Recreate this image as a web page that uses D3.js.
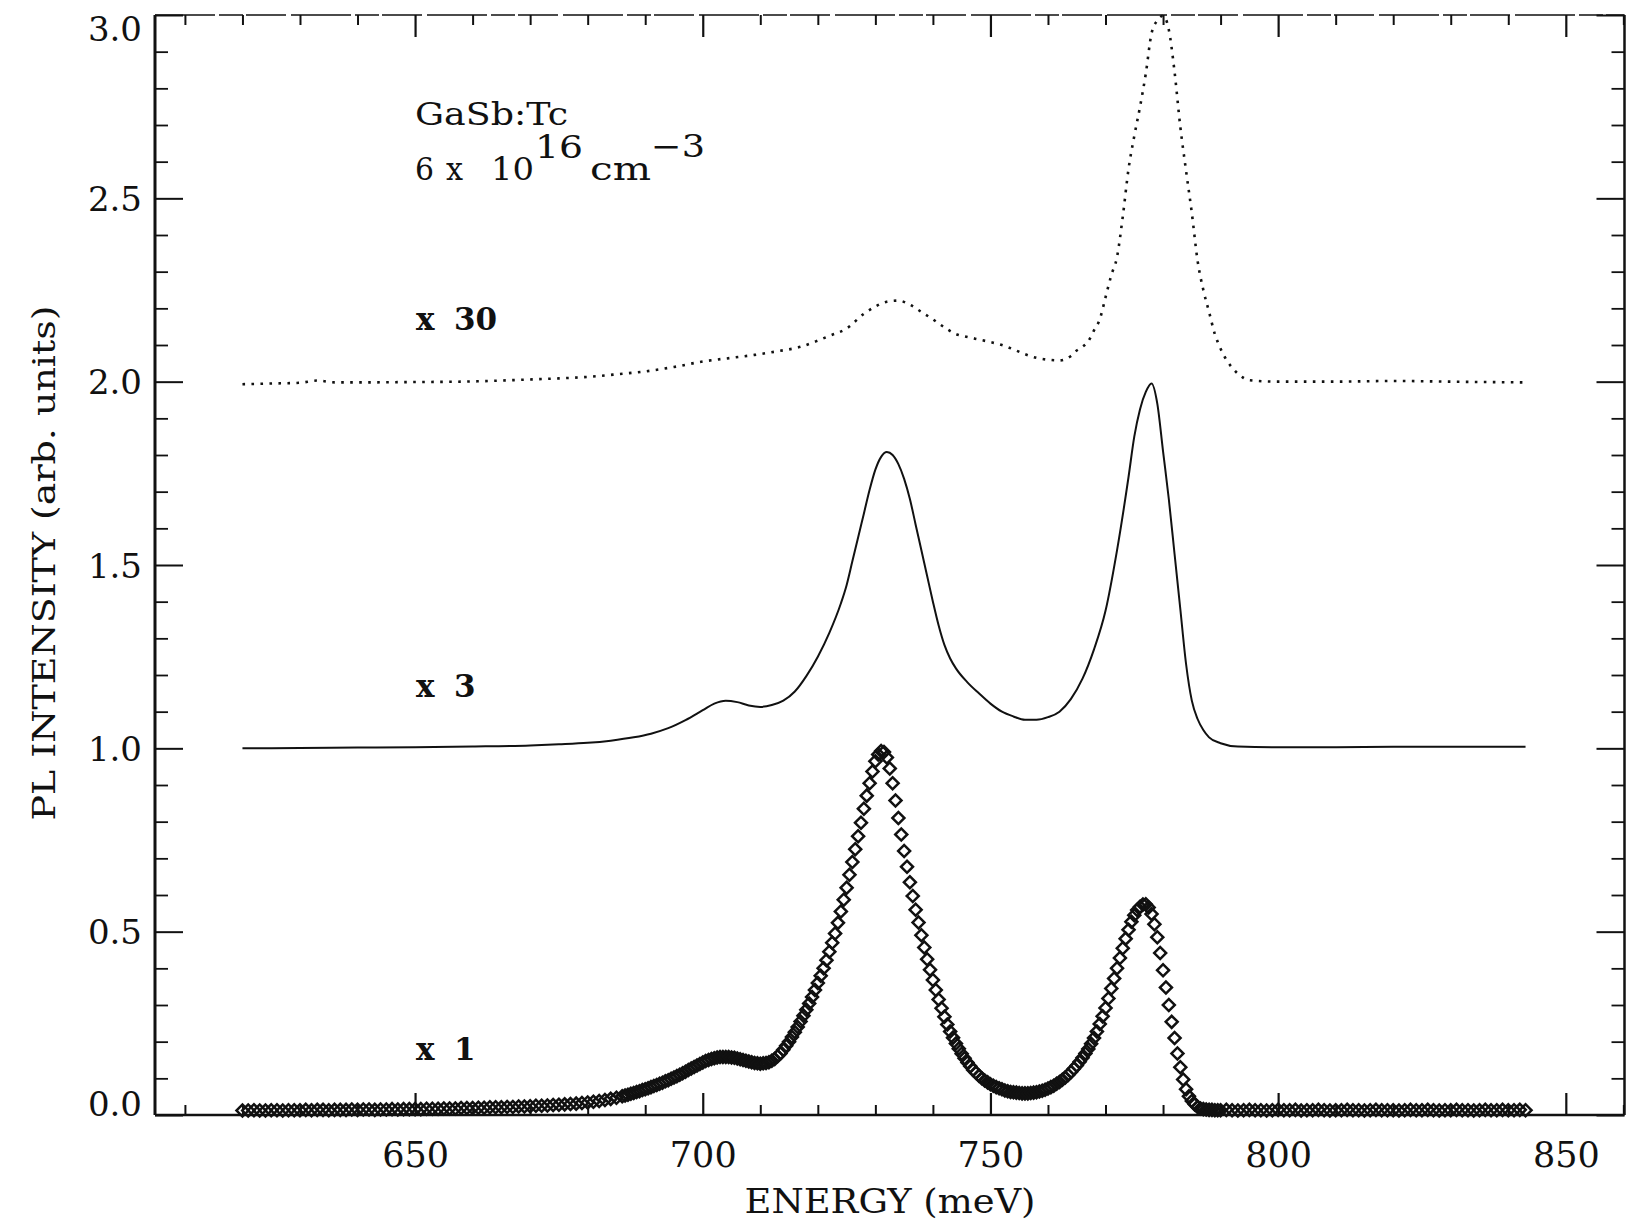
<!DOCTYPE html>
<html><head><meta charset="utf-8">
<script src="https://cdn.jsdelivr.net/npm/d3@7"></script>
<style>
html,body{margin:0;padding:0;background:#fff;}
svg{display:block;}
text{font-family:"DejaVu Serif",serif;fill:#111;}
</style></head>
<body>
<svg id="chart" width="1626" height="1222"></svg>
<script>
// ---------- data ----------
const xTickLabels = [650, 700, 750, 800, 850];
const yTickLabels = ["0.0","0.5","1.0","1.5","2.0","2.5","3.0"];
const seriesLabels = ["x 30", "x 3", "x 1"];

// x1 spectrum (diamonds), energy in meV
const x1Energy = [620,621,622,623,624,625,626,627,628,629,630,631,632,633,634,635,636,637,638,639,
640,641,642,643,644,645,646,647,648,649,650,651,652,653,654,655,656,657,658,659,
660,661,662,663,664,665,666,667,668,669,670,671,672,673,674,675,676,677,678,679,
680,681,682,683,684,685,
686,686.5,687,687.5,688,688.5,689,689.5,690,690.5,691,691.5,692,692.5,693,693.5,694,694.5,695,695.5,
696,696.5,697,697.5,698,698.5,699,699.5,700,700.5,701,701.5,702,702.5,703,703.5,704,704.5,705,705.5,
706,706.5,707,707.5,708,708.5,709,709.5,710,710.5,711,711.5,712,712.5,713,713.5,714,714.5,715,715.5,
716,716.5,717,717.5,718,718.5,719,719.5,720,720.5,721,721.5,722,722.5,723,723.5,724,724.5,725,725.5,
726,726.5,727,727.5,728,728.5,729,729.5,730,730.5,731,731.5,732,732.5,733,733.5,734,734.5,735,735.5,
736,736.5,737,737.5,738,738.5,739,739.5,740,740.5,741,741.5,742,742.5,743,743.5,744,744.5,745,745.5,
746,746.5,747,747.5,748,748.5,749,749.5,750,750.5,751,751.5,752,752.5,753,753.5,754,754.5,755,755.5,
756,756.5,757,757.5,758,758.5,759,759.5,760,760.5,761,761.5,762,762.5,763,763.5,764,764.5,765,765.5,
766,766.5,767,767.5,768,768.5,769,769.5,770,770.5,771,771.5,772,772.5,773,773.5,774,774.5,775,775.5,
776,776.5,777,777.5,778,778.5,779,779.5,780,780.5,781,781.5,782,782.5,783,783.5,784,784.5,785,785.5,
786,786.5,787,787.5,788,788.5,789,789.5,790,
791,792,793,794,795,796,797,798,799,
800,801,802,803,804,805,806,807,808,809,810,811,812,813,814,815,816,817,818,819,
820,821,822,823,824,825,826,827,828,829,830,831,832,833,834,835,836,837,838,839,
840,841,842,843];
const x1Value = [.012,.012,.013,.012,.012,.013,.013,.012,.013,.013,.013,.014,.013,.014,.014,.013,.014,.014,.014,.015,
.014,.015,.015,.014,.015,.015,.016,.015,.016,.016,.016,.016,.017,.017,.017,.018,.018,.018,.019,.019,
.019,.020,.020,.021,.021,.021,.022,.022,.023,.023,.024,.025,.025,.026,.027,.028,.029,.030,.031,.033,
.034,.036,.038,.041,.044,.047,
.051,.053,.055,.058,.060,.063,.065,.068,.070,.073,.076,.079,.082,.085,.088,.092,.095,.099,.102,.106,
.110,.114,.118,.123,.127,.131,.135,.139,.143,.147,.150,.153,.155,.157,.158,.158,.158,.158,.157,.156,
.154,.152,.150,.148,.146,.144,.142,.141,.140,.141,.142,.144,.148,.153,.160,.168,.178,.189,.200,.213,
.226,.240,.255,.271,.287,.304,.322,.341,.360,.380,.400,.422,.445,.470,.495,.524,.555,.587,.620,.655,
.690,.725,.760,.797,.835,.871,.905,.937,.965,.983,.993,.990,.975,.945,.905,.858,.810,.765,.720,.677,
.635,.597,.560,.525,.490,.457,.425,.396,.368,.341,.315,.291,.268,.247,.228,.211,.195,.181,.167,.155,
.143,.133,.123,.115,.107,.100,.094,.089,.084,.080,.076,.073,.070,.067,.065,.063,.062,.061,.060,.059,
.059,.059,.060,.061,.062,.064,.066,.069,.072,.076,.080,.085,.090,.096,.102,.109,.117,.126,.135,.145,
.156,.168,.180,.194,.210,.228,.248,.269,.292,.318,.345,.372,.400,.428,.455,.481,.505,.527,.545,.559,
.568,.574,.575,.566,.548,.520,.485,.442,.395,.348,.300,.254,.210,.168,.130,.097,.070,.051,.038,.029,
.022,.018,.016,.015,.014,.014,.013,.013,.013,
.014,.013,.012,.013,.014,.013,.013,.012,.013,
.014,.013,.013,.014,.012,.013,.013,.014,.013,.012,.013,.013,.014,.013,.013,.012,.013,.014,.013,.013,
.013,.012,.013,.014,.013,.013,.014,.013,.012,.013,.013,.014,.013,.013,.012,.013,.014,.013,.013,.014,
.013,.013,.014,.013];

// x3 spectrum (solid line)
const x3Energy = [620,630,640,650,660,670,675,680,684,688,691,694,697,700,702,704,706,708,710,712,
714,716,718,720,722,724,725,726,727,728,729,730,731,732,733,734,735,736,737,738,739,740,741,
742,743,744,746,748,750,752,754,756,758,760,762,764,766,768,770,772,774,775,776,
777,778,779,780,781,782,783,784,785,786,787,788,790,793,800,810,820,830,843];
const x3Value = [1.000,1.001,1.002,1.003,1.005,1.008,1.011,1.015,1.021,1.030,1.040,1.055,1.077,1.104,1.122,1.130,1.126,1.117,1.113,1.118,
1.130,1.155,1.197,1.250,1.315,1.395,1.445,1.510,1.575,1.640,1.705,1.760,1.795,1.808,1.800,1.775,1.735,1.680,1.610,1.540,1.470,1.400,1.335,
1.282,1.245,1.218,1.180,1.150,1.122,1.100,1.087,1.078,1.078,1.085,1.100,1.135,1.190,1.270,1.375,1.540,1.740,1.850,1.925,
1.972,1.995,1.940,1.810,1.680,1.530,1.380,1.230,1.130,1.080,1.050,1.030,1.014,1.005,1.003,1.003,1.004,1.004,1.004];

// x30 spectrum (dotted line)
const x30Energy = [620,625,630,633,636,640,650,658,665,670,675,680,685,690,695,700,705,709,713,717,
720,722,725,728,730,732,734,736,738,740,742,744,746,748,750,752,754,756,758,760,
762,764,765,766,767,768,769,770,771,772,773,774,775,776,777,778,779,780,781,782,
783,784,785,786,787,788,789,790,791,792,793,794,795,800,810,820,830,843];
const x30Value = [1.993,1.995,1.997,2.003,1.998,1.998,1.999,2.000,2.003,2.006,2.009,2.013,2.020,2.028,2.040,2.055,2.065,2.073,2.083,2.095,
2.112,2.125,2.145,2.185,2.205,2.218,2.221,2.210,2.190,2.170,2.148,2.130,2.122,2.115,2.108,2.100,2.088,2.075,2.065,2.060,
2.058,2.070,2.085,2.095,2.110,2.140,2.170,2.230,2.290,2.340,2.450,2.580,2.670,2.750,2.840,2.950,2.985,2.998,2.960,2.845,
2.695,2.575,2.460,2.330,2.250,2.190,2.130,2.090,2.060,2.038,2.022,2.010,2.004,2.000,2.000,2.002,2.000,1.998];

// ---------- drawing ----------
const svg = d3.select("#chart");
const x = d3.scaleLinear().domain([604.8, 860.2]).range([155, 1624.5]);
const y = d3.scaleLinear().domain([0, 3]).range([1115, 15]);

const axisColor = "#111";
const gAx = svg.append("g");

const xMinor = x.ticks(26).filter(v => xTickLabels.indexOf(v) < 0);
const yMinor = y.ticks(30).filter(v => Math.abs(v*2 - Math.round(v*2)) > 1e-6);
const yMajor = yTickLabels.map(Number);

function styleAxis(g, w){
  g.selectAll("line").attr("stroke", axisColor).attr("stroke-width", w);
  g.select(".domain").remove();
}
// bottom
gAx.append("g").attr("transform",`translate(0,${y(0)})`)
  .call(d3.axisBottom(x).tickValues(xMinor).tickSize(-10).tickFormat(""))
  .call(g=>styleAxis(g,2));
const bottomMajor = gAx.append("g").attr("transform",`translate(0,${y(0)})`)
  .call(d3.axisBottom(x).tickValues(xTickLabels).tickSize(-22).tickPadding(27).tickFormat(d3.format("d")))
  .call(g=>styleAxis(g,2.2));
// top
gAx.append("g").attr("transform",`translate(0,${y(3)})`)
  .call(d3.axisTop(x).tickValues(xMinor).tickSize(-10).tickFormat(""))
  .call(g=>styleAxis(g,2));
gAx.append("g").attr("transform",`translate(0,${y(3)})`)
  .call(d3.axisTop(x).tickValues(xTickLabels).tickSize(-22).tickFormat(""))
  .call(g=>styleAxis(g,2.2));
// left
gAx.append("g").attr("transform",`translate(${x.range()[0]},0)`)
  .call(d3.axisLeft(y).tickValues(yMinor).tickSize(-13).tickFormat(""))
  .call(g=>styleAxis(g,1.8));
const leftMajor = gAx.append("g").attr("transform",`translate(${x.range()[0]},0)`)
  .call(d3.axisLeft(y).tickValues(yMajor).tickSize(-28).tickPadding(13).tickFormat(d3.format(".1f")))
  .call(g=>styleAxis(g,2));
// right
gAx.append("g").attr("transform",`translate(${x.range()[1]},0)`)
  .call(d3.axisRight(y).tickValues(yMinor).tickSize(-13).tickFormat(""))
  .call(g=>styleAxis(g,1.8));
gAx.append("g").attr("transform",`translate(${x.range()[1]},0)`)
  .call(d3.axisRight(y).tickValues(yMajor).tickSize(-28).tickFormat(""))
  .call(g=>styleAxis(g,2));

// frame
const [x0,x1p] = x.range(), [yb,yt] = y.range();
gAx.append("line").attr("x1",x0).attr("x2",x0).attr("y1",yt).attr("y2",yb).attr("stroke",axisColor).attr("stroke-width",3);
gAx.append("line").attr("x1",x0).attr("x2",x1p).attr("y1",yb).attr("y2",yb).attr("stroke",axisColor).attr("stroke-width",2.5);
gAx.append("line").attr("x1",x1p).attr("x2",x1p).attr("y1",yt).attr("y2",yb).attr("stroke",axisColor).attr("stroke-width",2.5);
gAx.append("line").attr("x1",x0).attr("x2",x1p).attr("y1",yt).attr("y2",yt).attr("stroke",axisColor).attr("stroke-width",1.6)
  .attr("stroke-dasharray","60,4,24,3,40,5");

// tick label fonts
bottomMajor.selectAll("text").attr("font-size",35).attr("font-family","DejaVu Serif").attr("fill","#111");
leftMajor.selectAll("text").attr("font-size",34).attr("font-family","DejaVu Serif").attr("fill","#111")
  .attr("dy", d => d === 3 ? "0.74em" : (d === 0 ? "0.0em" : "0.36em"));

// x30 dotted line
const line = d3.line().x(d=>x(d[0])).y(d=>y(d[1])).curve(d3.curveMonotoneX);
svg.append("path").datum(x30Energy.map((e,i)=>[e,x30Value[i]]))
  .attr("d", line).attr("fill","none").attr("stroke","#111")
  .attr("stroke-width",2.6).attr("stroke-dasharray","2.6,6.4");
// x3 solid line
svg.append("path").datum(x3Energy.map((e,i)=>[e,x3Value[i]]))
  .attr("d", line).attr("fill","none").attr("stroke","#111").attr("stroke-width",2);
// x1 diamonds
const diamond = d3.symbol().type(d3.symbolSquare).size(72);
svg.append("g").selectAll("path").data(x1Energy.map((e,i)=>[e,x1Value[i]])).join("path")
  .attr("d", diamond)
  .attr("transform", d=>`translate(${x(d[0])},${y(d[1])}) rotate(45)`)
  .attr("fill","none").attr("stroke","#111").attr("stroke-width",2.5);

// series labels
const labelY = [330, 697, 1060];
seriesLabels.forEach((s,i)=>{
  const parts = s.split(" ");
  svg.append("text").attr("x",416).attr("y",labelY[i]).attr("font-size",31).attr("font-weight","bold").text(parts[0]);
  svg.append("text").attr("x",454).attr("y",labelY[i]).attr("font-size",31).attr("font-weight","bold").text(parts[1]);
});

// annotation
function txt(s, xx, yy, w, fs){
  return svg.append("text").attr("x",xx).attr("y",yy).attr("font-size",fs)
    .attr("textLength",w).attr("lengthAdjust","spacingAndGlyphs").text(s);
}
txt("GaSb:Tc", 415, 125, 153, 31);
txt("6", 415, 180, 19, 31);
txt("x", 446, 180, 17, 31);
txt("10", 491, 180, 43, 31);
txt("16", 535, 158, 48, 32);
txt("cm", 590, 180, 61, 31);
txt("\u22123", 651, 157, 54, 31);

// axis titles
svg.append("text").attr("x",890).attr("y",1213).attr("text-anchor","middle")
  .attr("font-size",34).attr("textLength",291).attr("lengthAdjust","spacingAndGlyphs")
  .text("ENERGY (meV)");
svg.append("text").attr("transform","translate(55,563) rotate(-90)").attr("text-anchor","middle")
  .attr("font-size",32).attr("textLength",515).attr("lengthAdjust","spacingAndGlyphs")
  .text("PL INTENSITY (arb. units)");
</script>
</body></html>
